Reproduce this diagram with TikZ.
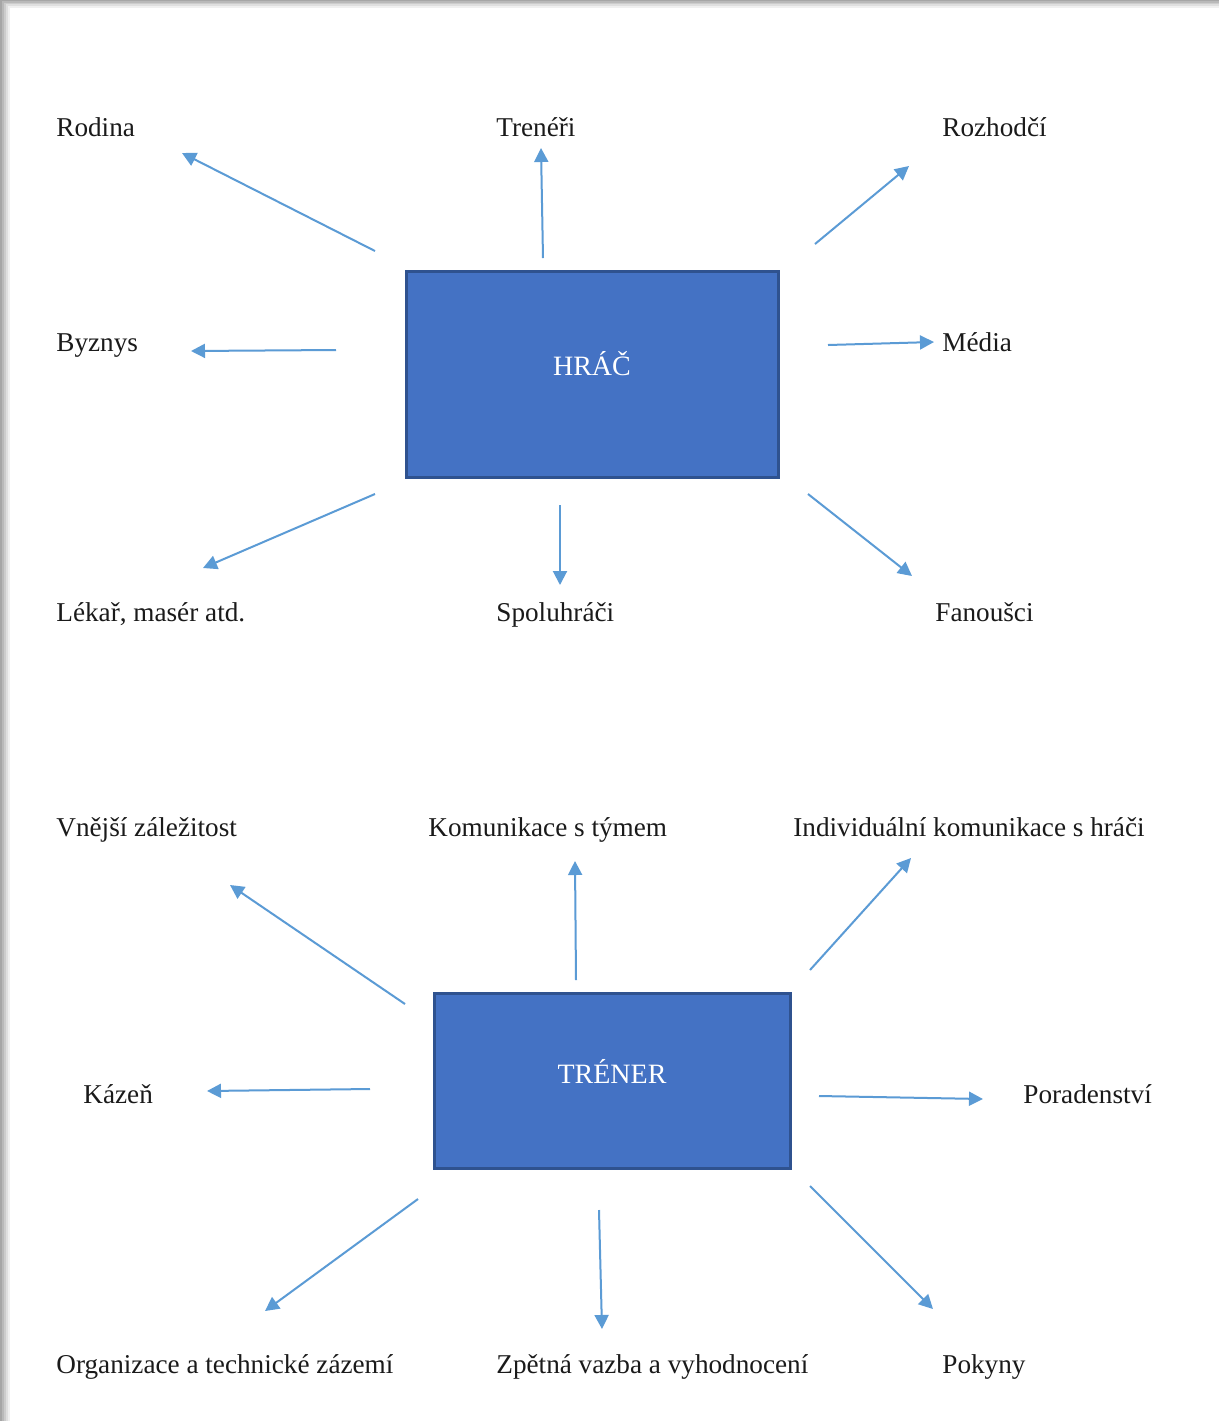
\documentclass[tikz,border=0pt]{standalone}
\usepackage{fontspec}
\setmainfont{Liberation Serif}
\usetikzlibrary{arrows.meta}
\definecolor{boxfill}{HTML}{4472C4}
\definecolor{boxline}{HTML}{2F528F}
\definecolor{arrowc}{HTML}{5B9BD5}
\definecolor{txt}{HTML}{1A1A1A}
\tikzset{
  lbl/.style={anchor=base west, inner sep=0pt, text=txt, font=\fontsize{13.6}{16}\selectfont},
  centerbox/.style={draw=boxline, line width=1.5pt, fill=boxfill, inner sep=0pt},
  boxtext/.style={text=white, inner sep=0pt, font=\fontsize{14}{16}\selectfont},
  arr/.style={draw=arrowc, line width=1pt, -{Triangle[length=7pt,width=7pt]}}
}
\begin{document}
\begin{tikzpicture}[x=0.5pt,y=-0.5pt]
\useasboundingbox (0,0) rectangle (1219,1421);
% page shadow
\fill[gray!70] (0,0) rectangle (1219,1421);
\fill[gray!55] (2,1) rectangle (1219,1421);
\fill[gray!40] (4,3) rectangle (1219,1421);
\fill[gray!25] (6,4) rectangle (1219,1421);
\fill[gray!12] (8,6) rectangle (1219,1421);
\fill[white] (10,8) rectangle (1219,1421);

% ===== HRÁČ =====
\node[centerbox, minimum width=186pt, minimum height=103pt] (hrac) at (592,374) {};
\node[boxtext] (hract) at (592,364) {HRÁČ};

\node[lbl] (rodina) at (56,136) {Rodina};
\node[lbl] (treneri) at (496,136) {Trenéři};
\node[lbl] (rozhodci) at (942,136) {Rozhodčí};
\node[lbl] (byznys) at (56,351) {Byznys};
\node[lbl] (media) at (942,351) {Média};
\node[lbl] (lekar) at (56,621) {Lékař, masér atd.};
\node[lbl] (spoluhraci) at (496,621) {Spoluhráči};
\node[lbl] (fanousci) at (935,621) {Fanoušci};

\coordinate (a1s) at (375,251); \coordinate (a1e) at (182,153);
\coordinate (a2s) at (543,258); \coordinate (a2e) at (541,148);
\coordinate (a3s) at (815,244); \coordinate (a3e) at (909,166);
\coordinate (a4s) at (336,350); \coordinate (a4e) at (191,351);
\coordinate (a5s) at (828,345); \coordinate (a5e) at (934,342);
\coordinate (a6s) at (375,494); \coordinate (a6e) at (203,568);
\coordinate (a7s) at (560,505); \coordinate (a7e) at (560,585);
\coordinate (a8s) at (808,494); \coordinate (a8e) at (912,576);
\foreach \i in {1,...,8} \draw[arr] (a\i s) -- (a\i e);

% ===== TRÉNER =====
\node[centerbox, minimum width=178pt, minimum height=87.5pt] (trener) at (612,1080.5) {};
\node[boxtext] (trenert) at (612,1071) {TRÉNER};

\node[lbl] (vnejsi) at (56,836) {Vnější záležitost};
\node[lbl] (komunikace) at (428,836) {Komunikace s týmem};
\node[lbl] (individualni) at (793,836) {Individuální komunikace s hráči};
\node[lbl] (kazen) at (83,1103) {Kázeň};
\node[lbl] (poradenstvi) at (1023,1103) {Poradenství};
\node[lbl] (organizace) at (56,1373) {Organizace a technické zázemí};
\node[lbl] (zpetna) at (496,1373) {Zpětná vazba a vyhodnocení};
\node[lbl] (pokyny) at (942,1373) {Pokyny};

\coordinate (b1s) at (405,1004); \coordinate (b1e) at (230,885);
\coordinate (b2s) at (576,980); \coordinate (b2e) at (575,861);
\coordinate (b3s) at (810,970); \coordinate (b3e) at (911,858);
\coordinate (b4s) at (370,1089); \coordinate (b4e) at (207,1091);
\coordinate (b5s) at (819,1096); \coordinate (b5e) at (983,1099);
\coordinate (b6s) at (418,1199); \coordinate (b6e) at (265,1311);
\coordinate (b7s) at (599,1210); \coordinate (b7e) at (602,1329);
\coordinate (b8s) at (810,1186); \coordinate (b8e) at (933,1309);
\foreach \i in {1,...,8} \draw[arr] (b\i s) -- (b\i e);
\end{tikzpicture}
\end{document}
